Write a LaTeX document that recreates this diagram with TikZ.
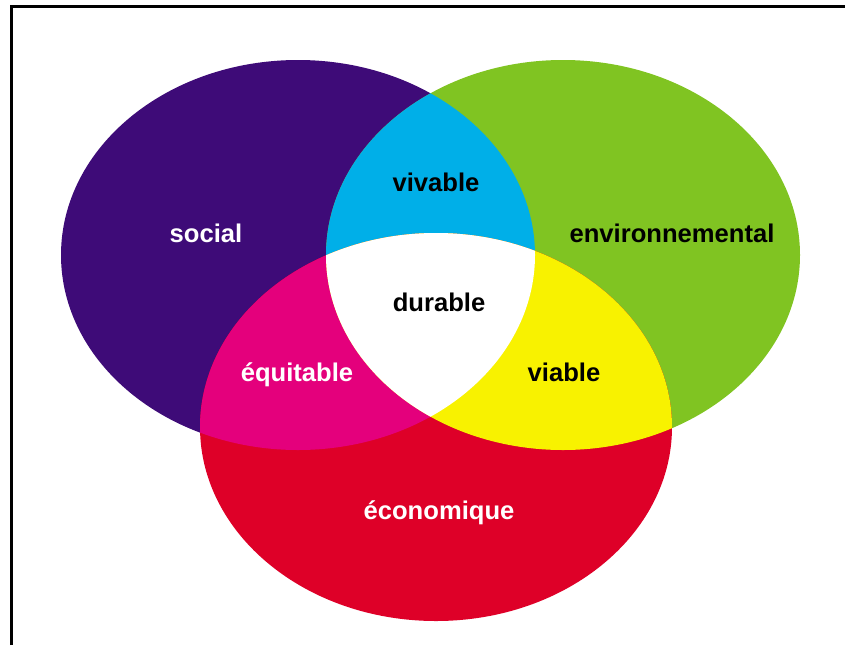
\documentclass[tikz,border=0pt]{standalone}
\usepackage{fontspec}
\setmainfont{Liberation Sans}
\definecolor{cpurple}{RGB}{62,11,120}
\definecolor{cgreen}{RGB}{128,196,34}
\definecolor{ccyan}{RGB}{0,175,232}
\definecolor{cmagenta}{RGB}{228,0,124}
\definecolor{cred}{RGB}{222,0,40}
\definecolor{cyellow}{RGB}{248,242,0}
\begin{document}
\begin{tikzpicture}[x=1pt,y=-1pt,
  lbl/.style={font=\bfseries\fontsize{25.6}{30}\selectfont, anchor=base, inner sep=0pt},
  frame/.style={line width=3pt, line join=miter}]
\useasboundingbox (0,0) rectangle (845,645);
\def\Soc{(298,255) ellipse [x radius=237, y radius=195]}
\def\Env{(563,255) ellipse [x radius=237, y radius=195]}
\def\Eco{(436,427) ellipse [x radius=236, y radius=194]}
\fill[cpurple] \Soc;
\fill[cgreen] \Env;
\fill[cred] \Eco;
\begin{scope}
  \clip \Soc;
  \fill[ccyan] \Env;
  \fill[cmagenta] \Eco;
\end{scope}
\begin{scope}
  \clip \Env;
  \fill[cyellow] \Eco;
\end{scope}
\begin{scope}
  \clip \Soc;
  \clip \Env;
  \fill[white] \Eco;
\end{scope}
\draw[frame] (11,645) -- (11,6) -- (845,6);
\node[lbl, text=white] (social) at (206,242) {social};
\node[lbl, text=black] (vivable) at (436,191) {vivable};
\node[lbl, text=black] (environ) at (672,242) {environnemental};
\node[lbl, text=black] (durable) at (439,311) {durable};
\node[lbl, text=white] (equitable) at (297,381) {équitable};
\node[lbl, text=black] (viable) at (564,381) {viable};
\node[lbl, text=white] (economique) at (439,519) {économique};
\end{tikzpicture}
\end{document}
